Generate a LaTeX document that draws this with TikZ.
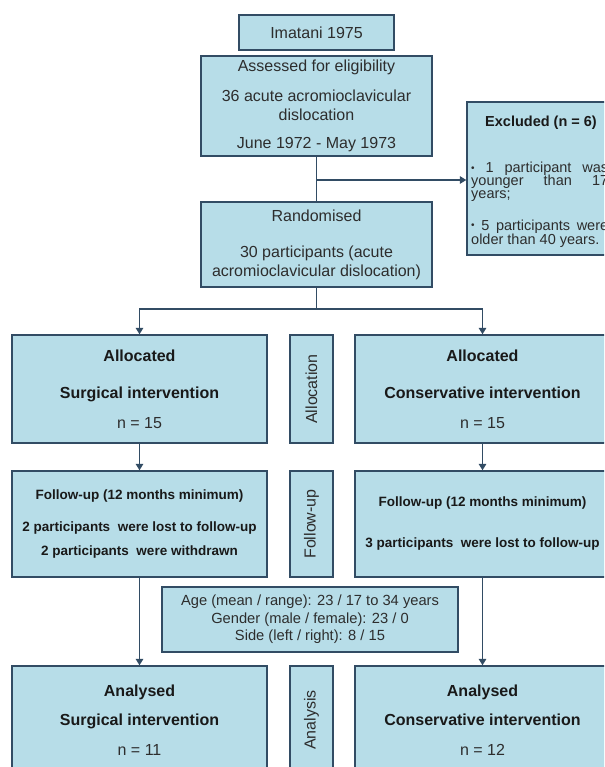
\documentclass[tikz,border=0pt]{standalone}
\usepackage{fontspec}
\setmainfont{Liberation Sans}
\usetikzlibrary{arrows.meta}
\definecolor{boxfill}{RGB}{183,221,232}
\definecolor{boxline}{RGB}{50,76,100}
\definecolor{txt}{RGB}{45,45,45}
\definecolor{btxt}{RGB}{25,25,25}
\tikzset{
  box/.style={draw=boxline, line width=1.4pt, fill=boxfill, inner sep=0pt, align=center, text=txt},
  conn/.style={draw=boxline, line width=1.6pt},
  arr/.style={conn, -{Triangle[length=6.5pt,width=7.5pt]}},
  reg/.style={font=\fontsize{16}{19}\selectfont},
  bld/.style={font=\fontsize{16}{19}\selectfont\bfseries, text=btxt},
  fub/.style={font=\fontsize{13.5}{16}\selectfont\bfseries, text=btxt},
  agef/.style={font=\fontsize{14.7}{17.5}\selectfont},
  exline/.style={anchor=base west, inner sep=0pt, text=txt, font=\fontsize{14.5}{14}\selectfont},
}
\newcommand{\smbul}{{\fontsize{10}{10}\selectfont\raisebox{1.5pt}{\textbullet}}}
\begin{document}
\begin{tikzpicture}[x=1pt,y=-1pt]
\useasboundingbox (0,0) rectangle (604,767);
\clip (0,0) rectangle (604,767);
\fill[white] (0,0) rectangle (604,767);

% top column
\node[box, reg, minimum width=155pt, minimum height=35pt] (imatani) at (316.5,32.5) {Imatani 1975};
\node[box, reg, minimum width=231pt, minimum height=100pt] (assessed) at (316.5,106)
  {Assessed for eligibility\\[11pt]36 acute acromioclavicular\\dislocation\\[9pt]June 1972 - May 1973};
\node[box, reg, minimum width=231pt, minimum height=85pt] (random) at (316.5,244.5)
  {Randomised\\[17pt]30 participants (acute\\acromioclavicular dislocation)};

% excluded
\node[box, minimum width=158pt, minimum height=153pt] (excluded) at (546,178.5) {};
\node[anchor=west, inner sep=0pt, text=btxt, font=\fontsize{14.5}{16}\selectfont\bfseries] (extitle) at (485,123) {Excluded (n = 6)};
\node[exline] (ex1a) at (471,173) {\makebox[137pt][s]{\smbul\ 1 participant was}};
\node[exline] (ex1b) at (471,186) {\makebox[137pt][s]{younger than 17}};
\node[exline] (ex1c) at (471,199) {years;};
\node[exline] (ex2a) at (471,230) {\makebox[137pt][s]{\smbul\ 5 participants were}};
\node[exline] (ex2b) at (471,244) {older than 40 years.};

% allocation row
\node[box, bld, minimum width=255pt, minimum height=108pt] (allocL) at (139.5,389)
  {Allocated\\[18pt]Surgical intervention\\[11pt]{\mdseries\color{txt}n = 15}};
\node[box, reg, rotate=90, minimum width=108pt, minimum height=43pt] (allocLbl) at (311.5,389) {Allocation};
\node[box, bld, minimum width=255pt, minimum height=108pt] (allocR) at (482.5,389)
  {Allocated\\[18pt]Conservative intervention\\[11pt]{\mdseries\color{txt}n = 15}};

% follow-up row
\node[box, fub, minimum width=255pt, minimum height=106pt] (fuL) at (139.5,524)
  {Follow-up (12 months minimum)\\[16pt]2 participants\ \ were lost to follow-up\\[8pt]2 participants\ \ were withdrawn};
\node[box, reg, rotate=90, minimum width=106pt, minimum height=43pt] (fuLbl) at (311.5,524) {Follow-up};
\node[box, fub, minimum width=255pt, minimum height=106pt] (fuR) at (482.5,524)
  {Follow-up (12 months minimum)\\[25pt]3 participants\ \ were lost to follow-up};

% baseline characteristics
\node[box, agef, minimum width=296pt, minimum height=65pt] (age) at (310,619.5)
  {Age (mean / range): 23 / 17 to 34 years\\Gender (male / female): 23 / 0\\Side (left / right): 8 / 15};

% analysis row
\node[box, bld, minimum width=255pt, minimum height=108pt] (anL) at (139.5,720)
  {Analysed\\[10pt]Surgical intervention\\[11pt]{\mdseries\color{txt}n = 11}};
\node[box, reg, rotate=90, minimum width=108pt, minimum height=43pt] (anLbl) at (311.5,720) {Analysis};
\node[box, bld, minimum width=255pt, minimum height=108pt] (anR) at (482.5,720)
  {Analysed\\[10pt]Conservative intervention\\[11pt]{\mdseries\color{txt}n = 12}};

% connectors
\coordinate (split) at (316.5,180);
\coordinate (branch) at (316.5,309);
\draw[conn] (assessed.south) -- (random.north);
\draw[arr] (split) -- (split -| excluded.west);
\draw[conn] (random.south) -- (branch);
\draw[arr] (branch) -| (allocL.north);
\draw[arr] (branch) -| (allocR.north);
\draw[arr] (allocL.south) -- (fuL.north);
\draw[arr] (allocR.south) -- (fuR.north);
\draw[arr] (fuL.south) -- (anL.north);
\draw[arr] (fuR.south) -- (anR.north);
\end{tikzpicture}
\end{document}
